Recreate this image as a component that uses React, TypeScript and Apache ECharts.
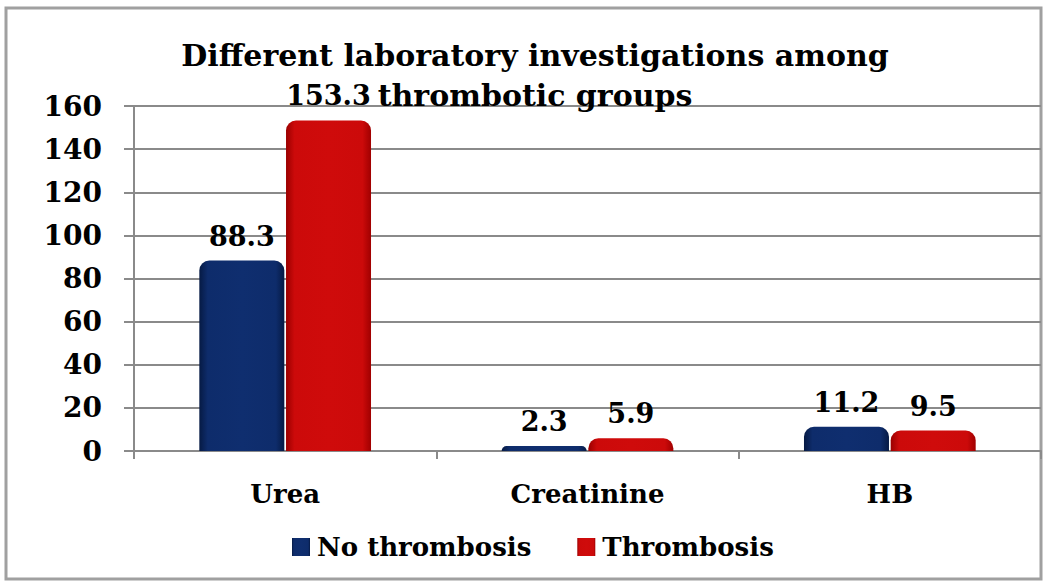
import React, { useEffect, useRef } from "react";
import * as echarts from "echarts";

const categories = ["Urea", "Creatinine", "HB"];
const noThrombosis = [88.3, 2.3, 11.2];
const thrombosis = [153.3, 5.9, 9.5];
const yTicks = [0, 20, 40, 60, 80, 100, 120, 140, 160];

const FONT = "DejaVu Serif";

const blueGrad = new echarts.graphic.LinearGradient(0, 0, 1, 0, [
  { offset: 0, color: "#061a44" },
  { offset: 0.1, color: "#0e2c6b" },
  { offset: 0.5, color: "#0f2e6f" },
  { offset: 0.9, color: "#0e2c6b" },
  { offset: 1, color: "#061a44" },
]);
const redGrad = new echarts.graphic.LinearGradient(0, 0, 1, 0, [
  { offset: 0, color: "#9a0000" },
  { offset: 0.1, color: "#cc0a0a" },
  { offset: 0.5, color: "#cf0b0b" },
  { offset: 0.9, color: "#cc0a0a" },
  { offset: 1, color: "#a00000" },
]);

export default function App() {
  const ref = useRef<HTMLDivElement>(null);
  useEffect(() => {
    if (!ref.current) return;
    const chart = echarts.init(ref.current, null, { renderer: "svg" });
    const labelStyle = {
      show: true,
      position: "top" as const,
      distance: 11,
      fontFamily: FONT,
      fontWeight: "bold" as const,
      fontSize: 27,
      color: "#000",
    };
    chart.setOption({
      animation: false,
      backgroundColor: "#fff",
      title: {
        text: "Different laboratory investigations among\nthrombotic groups",
        left: 530,
        top: 30,
        textAlign: "center",
        z: 10,
        textStyle: {
          fontFamily: FONT,
          fontWeight: "bold",
          fontSize: 30,
          lineHeight: 40,
          color: "#000",
        },
      },
      graphic: [
        {
          type: "rect",
          shape: { x: 6, y: 8, width: 1035, height: 571 },
          style: { fill: "none", stroke: "#a0a0a0", lineWidth: 3 },
          z: -1,
        },
      ],
      legend: {
        data: ["No thrombosis", "Thrombosis"],
        left: 292,
        top: 534,
        padding: 0,
        itemWidth: 18,
        itemHeight: 18,
        itemGap: 46,
        icon: "rect",
        textStyle: {
          fontFamily: FONT,
          fontWeight: "bold",
          fontSize: 26,
          color: "#000",
          padding: [0, 0, 0, 2],
        },
      },
      grid: { left: 134, right: 4, top: 106, bottom: 134, containLabel: false },
      xAxis: {
        type: "category",
        data: categories,
        axisLine: { show: true, lineStyle: { color: "#8a8a8a", width: 2 } },
        axisTick: { show: true, length: 8, lineStyle: { color: "#8a8a8a", width: 2 } },
        axisLabel: {
          margin: 30,
          fontFamily: FONT,
          fontWeight: "bold",
          fontSize: 26,
          color: "#000",
        },
      },
      yAxis: {
        type: "value",
        min: yTicks[0],
        max: yTicks[yTicks.length - 1],
        interval: 20,
        axisLine: { show: true, lineStyle: { color: "#8a8a8a", width: 2 } },
        axisTick: { show: true, length: 10, lineStyle: { color: "#8a8a8a", width: 2 } },
        splitLine: { show: true, lineStyle: { color: "#8a8a8a", width: 2 } },
        axisLabel: {
          margin: 32,
          fontFamily: FONT,
          fontWeight: "bold",
          fontSize: 28,
          color: "#000",
        },
      },
      series: [
        {
          name: "No thrombosis",
          type: "bar",
          data: noThrombosis,
          barWidth: 85,
          barGap: "2%",
          itemStyle: { color: blueGrad, borderRadius: [10, 10, 0, 0] },
          label: labelStyle,
        },
        {
          name: "Thrombosis",
          type: "bar",
          data: thrombosis,
          barWidth: 85,
          itemStyle: { color: redGrad, borderRadius: [10, 10, 0, 0] },
          label: labelStyle,
        },
      ],
    });
    return () => chart.dispose();
  }, []);
  return (
    <div
      ref={ref}
      style={{ position: "absolute", left: 0, top: 0, width: 1045, height: 585 }}
    />
  );
}
